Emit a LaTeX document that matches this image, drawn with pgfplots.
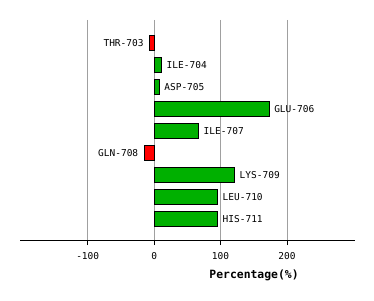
\documentclass[border=0pt]{standalone}
\usepackage{pgfplots}
\usepackage{pgfplotstable}
\usepackage{fontspec}
\setmainfont{DejaVu Sans Mono}
\setmonofont{DejaVu Sans Mono}
\pgfplotsset{compat=1.18}
\definecolor{bargreen}{RGB}{0,176,0}
\definecolor{barred}{RGB}{255,0,0}
\definecolor{gridgray}{RGB}{160,160,160}
\pgfplotstableread{
y label val
1 ILE-704 11.1
2 ASP-705 7.5
3 GLU-706 173
4 ILE-707 66.8
6 LYS-709 121
7 LEU-710 95.3
8 HIS-711 95.3
}\pos
\pgfplotstableread{
y label val
0 THR-703 -6.5
5 GLN-708 -14.6
}\negt
\begin{document}
\begin{tikzpicture}[x=1pt,y=1pt]
\useasboundingbox (0,0) rectangle (374,300);
\begin{axis}[
  at={(20.3pt,60pt)}, anchor=south west,
  scale only axis, width=334.4pt, height=220pt,
  xmin=-201.5, xmax=302,
  ymin=-1.05, ymax=8.95, y dir=reverse,
  axis line style={draw=none},
  xtick pos=bottom,
  xtick={-100,0,100,200},
  /pgf/number format/assume math mode=true,
  xtick align=outside, major tick length=5pt,
  xtick style={draw=black, line width=0.8pt},
  xmajorgrids, grid style={gridgray, line width=0.8pt},
  ytick=\empty,
  xticklabel style={font=\fontsize{9.5}{10}\selectfont, anchor=center, yshift=-11pt},
  xlabel={\textbf{Percentage(\%)}},
  xlabel style={font=\fontsize{11.4}{12}\selectfont, at={(axis description cs:0.699,0)}, anchor=center, yshift=-35pt},
  xbar, bar width=0.68, bar shift=0pt,
  clip=false,
  nodes near coords={\pgfplotspointmeta},
  point meta=explicit symbolic,
  nodes near coords style={font=\fontsize{9.5}{10}\selectfont, black},
]
\addplot[fill=bargreen, draw=black, line width=0.8pt,
  nodes near coords style={anchor=west, xshift=1.5pt}]
  table[x=val, y=y, meta=label] {\pos};
\addplot[fill=barred, draw=black, line width=0.8pt,
  nodes near coords style={anchor=east, xshift=-2.5pt}]
  table[x=val, y=y, meta=label] {\negt};
\draw[black, line width=0.8pt] (rel axis cs:0,0) -- (rel axis cs:1,0);
\end{axis}
\end{tikzpicture}
\end{document}
